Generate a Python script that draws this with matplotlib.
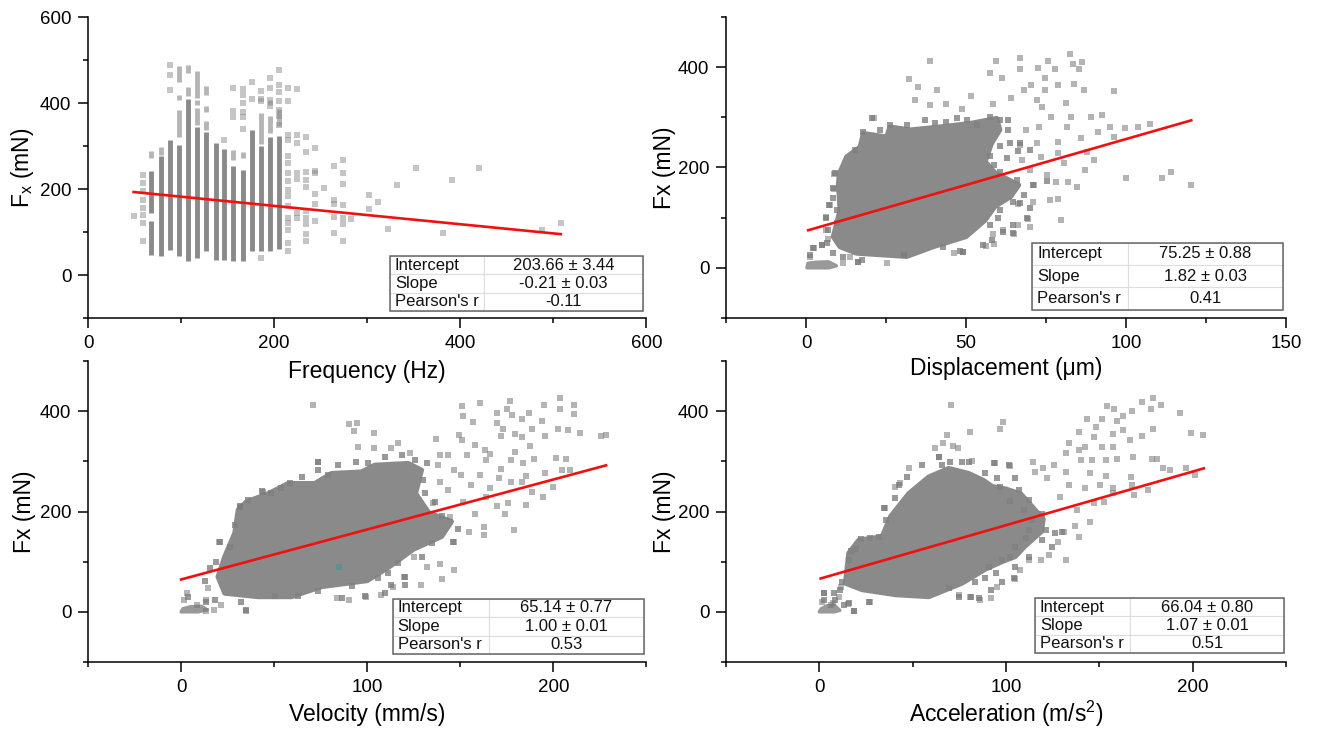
import matplotlib
matplotlib.use('Agg')
from matplotlib import pyplot as plt
from matplotlib.patches import Rectangle

plt.rcParams['font.family'] = ['Liberation Sans', 'DejaVu Sans']
plt.rcParams['mathtext.fontset'] = 'custom'
plt.rcParams['mathtext.rm'] = 'Liberation Sans'
plt.rcParams['mathtext.default'] = 'regular'

GREY = '#8a8a8a'

# frequency panel: columns of stacked points, (freq, low, high)
freq_solid = [(68, 47, 125), (68, 144, 241), (78, 45, 276), (88, 59, 315), (98, 45, 303),
              (107, 32, 409), (117, 40, 345), (127, 56, 332), (137, 36, 308), (146, 36, 293),
              (156, 32, 254), (166, 32, 245), (176, 55, 338), (185.5, 55, 300), (195.5, 55, 322),
              (205, 60, 324)]
freq_light = [(68, 272, 288), (78, 280, 297), (98, 322, 384), (98, 408, 419), (98, 450, 485),
              (107, 416, 438), (107, 470, 489), (117, 350, 388), (117, 396, 408), (117, 412, 474),
              (127, 338, 357), (127, 380, 392), (127, 419, 440), (156, 268, 290), (166, 272, 287),
              (185.5, 305, 376), (195.5, 330, 370), (195.5, 396, 408), (205, 346, 385)]
freq_x = [49, 59, 59, 59, 59, 59, 59, 59, 59,
          214.5, 214.5, 214.5, 214.5, 214.5, 214.5, 214.5, 214.5, 214.5, 214.5, 214.5, 214.5, 214.5, 214.5, 214.5, 214.5,
          224.5, 224.5, 224.5, 224.5, 224.5, 224.5, 224.5,
          234, 234, 234, 234, 234, 234, 234, 234, 234, 234,
          244, 244, 244, 244, 244, 244, 254,
          264, 264, 264, 264, 264,
          274, 274, 274, 274, 274, 274, 274,
          283, 302, 302, 312, 322, 332, 352, 381, 391, 420, 488, 508,
          176, 176, 185.5, 185.5, 185.5, 185.5, 195.5, 195.5, 195.5, 195.5,
          205, 205, 205, 205, 205, 205, 205,
          156, 156, 156, 166, 166, 166, 166, 166, 166, 146, 88, 88, 88]
freq_y = [138, 232, 214, 195, 175, 156, 140, 122, 80,
          435, 404, 326, 315, 276, 260, 237, 218, 197, 183, 160, 133, 122, 105, 74, 55,
          433, 326, 307, 237, 223, 144, 133,
          321, 286, 239, 220, 205, 150, 133, 119, 95, 80,
          295, 243, 237, 188, 164, 125, 202,
          253, 175, 164, 136, 98,
          267, 237, 212, 162, 133, 119, 78,
          130, 186, 153, 169, 107, 209, 249, 98, 222, 250, 104, 122,
          450, 409, 429, 409, 404, 40, 459, 435, 408, 394,
          476, 443, 425, 404, 383, 369, 350,
          435, 381, 367, 432, 419, 400, 380, 367, 340, 313, 489, 464, 430]

# dense core outlines and the loose points around them
disp_core_x = [10.4, 12.7, 16.9, 17.9, 25.2, 26.2, 32.5, 41.9, 51.3, 59.6, 60.6, 58, 56, 59,
               66.5, 64, 59, 56, 50, 39.8, 31.5, 23.1, 15.8, 10.6, 8.5, 10.6, 10.1]
disp_core_y = [188, 221.5, 241, 268, 261, 281, 275, 281, 288, 298, 275, 248, 212, 190,
               165, 142, 122, 95, 62, 42, 22.5, 26, 29, 42, 62, 115, 168.5]
disp_foot_x = [0.3, 0.6, 3, 7, 9.5, 7, 0.3]
disp_foot_y = [0, 9, 11, 12, 4, 0, 0]
disp_x = [38.6, 59.3, 66.8, 82.6, 75.6, 83.4, 86.3, 85.3, 57.6, 61.2, 66.8, 72.4, 77.8, 74.8, 32.2, 34.9, 40.9, 51.7,
          34, 38.6, 43.8, 48.6, 58.3, 64.2, 68.2, 70.2, 74.8, 78.7, 83.9, 87, 96.4, 81.3, 73.8, 72.1, 76.7, 82.9, 89.2,
          92.5, 21.1, 95.1, 99.7, 103.7, 107.6, 91.2, 96.4, 81.7, 72.8, 68.8, 85.9, 78.7, 72.1, 66.8, 87.9, 78.7, 73.4,
          67.5, 89.9, 80.7, 70.1, 87.2, 100, 111.2, 114.2, 120.4, 78, 84.6, 82, 75.4, 71.4, 76.1, 78.7, 70.8, 66.2, 79.6,
          69.5, 66.2, 70, 61.6, 58.3, 64.9, 58.9, 56.3, 49.1, 46.4, 25.4, 16.2, 30.7, 8.9, 8.9, 7.6, 6.3, 6.3, 7, 5, 2.4,
          1.1, 11.6, 13.6]
disp_y = [413, 412, 419, 426, 412, 407, 411, 397, 389, 379, 397, 399, 397, 379, 377, 361, 355, 342,
          334, 324, 326, 316, 326, 338, 354, 364, 354, 364, 367, 355, 352, 329, 321, 335, 301, 301, 301,
          304, 298, 281, 278, 280, 286, 271, 261, 281, 281, 274, 258, 251, 248, 244, 231, 228, 221,
          215, 215, 208, 195, 195, 180, 180, 192, 165, 171, 161, 171, 185, 165, 135, 138, 132, 128, 96,
          98, 85, 82, 75, 68, 68, 48, 43, 31, 29, 9, 12, 25, 188, 158, 125, 102, 75, 58, 45, 39,
          22, 9, 22]
disp_fringe_x = [9, 8.5, 8.3, 7.3, 9.8, 6.3, 7, 9.6, 2.3, 4.9, 6.5, 1.3, 8.5, 11.7, 16.3, 17.4, 20.5, 17.9, 15.3, 23.1,
                 26.2, 31.5, 37.2, 40.3, 43.9, 47.1, 50.2, 53.3, 57.5, 60.6, 63.2, 63.2, 63.8, 66.9, 60.6, 57.5, 62.7,
                 58.6, 66.4, 70, 60.6, 65.8, 71, 75.3, 68, 64.8, 70, 66.9, 60.6, 60.1, 57.5, 64.8, 69, 61.7, 64.8, 58,
                 55.4, 48.1, 49.2, 42.9]
disp_fringe_y = [190, 159, 140, 125, 115, 99, 76, 89, 39, 46, 49, 26, 29, 22, 12, 16, 298, 271, 235, 275,
                 285, 285, 295, 288, 291, 298, 295, 285, 301, 295, 295, 275, 249, 249, 242, 222, 219,
                 205, 232, 235, 192, 175, 165, 174, 145, 132, 119, 129, 115, 99, 86, 86, 99, 72, 69, 55,
                 46, 34, 32, 42]

vel_core_x = [30.6, 35.1, 47, 57.5, 71.8, 80.8, 96.9, 104, 122, 129.2, 126, 133, 145.3, 140,
              125, 112, 100, 75.4, 59.3, 41.3, 23.4, 19.8, 23.4, 28.8]
vel_core_y = [203, 219.5, 236, 256, 256, 276, 279, 292.5, 296, 282.6, 236, 198, 180, 150,
              125, 90, 62, 50, 30, 30, 37, 70, 110, 157]
vel_foot_x = [0, 1, 5, 11, 14, 9, 0]
vel_foot_y = [0, 6, 10, 11, 4, 0, 0]
vel_x = [71, 90.3, 94.3, 93, 103.4, 94.8, 103.4, 112.9, 116.3, 123.1, 73.3, 43.9, 31.4, 150.7, 151.4, 160.4, 176.9,
         175.1, 177.9, 169.5, 187.1, 195, 203.8, 203.8, 211.3, 211.3, 157, 169.5, 183, 193.9, 172.9, 188.7, 202.3, 207.9,
         214.3, 225.6, 228.3, 171.7, 179.6, 183, 195.6, 149.1, 150.9, 136.7, 158.1, 153.6, 163.5, 165.8, 179.6, 187.6,
         138.9, 143.4, 137.8, 146.8, 150.2, 163.8, 177.4, 183.5, 189.8, 201.6, 206.8, 171.7, 185.4, 195.5, 204.5, 209,
         138.9, 155.9, 160.4, 170.6, 177.4, 183, 143.4, 166, 188.7, 200, 194.3, 135.5, 151.4, 163.8, 169.5, 175.8, 185.3,
         174, 158.1, 144.6, 179, 162.7, 154.8, 162.7, 146.8, 138.9, 146.4, 140, 132.1, 125.3, 119.7, 128.7, 114, 107.2,
         99.3, 90.3, 83.5, 34.8, 21.3, 20.1, 14.5, 13.3, 8.8, 3.2, 1.6, 13.3, 17.9]
vel_y = [413, 375, 377, 361, 357, 328, 326, 326, 337, 316, 298, 239, 209, 410, 390, 417, 420,
         405, 392, 397, 397, 413, 427, 405, 413, 395, 379, 377, 384, 380, 365, 365, 365, 363,
         357, 350, 353, 350, 354, 349, 350, 352, 342, 344, 332, 312, 322, 314, 319, 330,
         312, 312, 292, 282, 272, 302, 302, 296, 304, 307, 304, 284, 270, 277, 282, 282,
         259, 252, 272, 266, 259, 259, 243, 246, 239, 249, 229, 216, 219, 229, 211, 217, 213,
         196, 196, 189, 163, 169, 159, 153, 140, 95, 83, 66, 90, 110, 70, 53, 50, 33,
         29, 23, 27, 1, 13, 140, 47, 23, 13, 37, 23, 2, 3]
vel_fringe_x = [73.6, 43.5, 35.7, 31.5, 48.5, 53.9, 58.4, 64.7, 73.6, 79, 84.4, 94.2, 100.5, 109.5, 118.4, 125.6, 131.9,
                130.1, 131, 136.3, 139.9, 148.9, 146.2, 134.6, 129.2, 116.6, 120.2, 111.2, 105.9, 113, 120.2, 109.5,
                98.7, 91.6, 86.2, 73.6, 62.9, 50.3, 32.4, 12.7, 15.4, 19, 20.8, 26.1, 28.8, 35.1, 18, 13.6, 3.7]
vel_fringe_y = [299, 241, 222, 210, 236, 246, 256, 269, 283, 273, 292, 299, 296, 309, 312, 302, 296,
                263, 237, 218, 192, 166, 140, 137, 110, 97, 70, 77, 67, 54, 54, 37,
                31, 51, 27, 41, 31, 31, 19, 61, 87, 100, 140, 130, 173, 4, 24, 20, 30]
vel_odd_x = [85]
vel_odd_y = [89]

acc_core_x = [15.7, 21.1, 33.6, 38.1, 47.9, 58.6, 69.3, 80, 88, 92.6, 100, 108, 114, 120, 119, 110, 105, 98, 89, 76.5,
              58.6, 40.8, 22.9, 13.9, 14.9]
acc_core_y = [117, 143, 150, 190, 236, 269, 286, 276, 262, 250, 245, 235, 210, 185, 160, 130, 110, 100, 85, 57,
              30, 34, 44, 57, 90]
acc_foot_x = [0, 1, 4, 8, 11, 8, 0]
acc_foot_y = [0, 6, 12, 13, 3, 0, 0]
acc_x = [70.8, 98.5, 96.9, 80.7, 68.5, 62, 66.5, 71.5, 74.4, 64.3, 81.6, 94, 101.9, 114.3, 47.8, 154.2, 157.8, 172.9,
         179, 183, 177.5, 167.3, 193.3, 143.6, 151.5, 159.4, 162.8, 178.6, 148.1, 139.1, 147, 157.2, 162.8, 166.2, 172.9,
         198.9, 205.6, 133.5, 142.5, 151.5, 157.2, 132.4, 139.1, 140.2, 145.9, 153.8, 159.4, 168, 178.1, 180.8, 125.6,
         119.9, 132.4, 144.8, 153.8, 166.9, 187.6, 196.6, 201.1, 184.2, 115.4, 122.2, 133.5, 142.5, 150.4, 157.2, 167.3,
         175.9, 157.2, 168.4, 152.6, 147, 129, 138, 144.8, 136.9, 131.2, 139.1, 127.8, 123.3, 131.9, 118.8, 112.1, 107.6,
         104.8, 95.2, 91.8, 86.1, 80.5, 74.9, 27.1, 18.5, 15.1, 10.6, 11.7, 7.2, 2.7, 1.6, 6.1, 43.3, 35.4, 40.6]
acc_y = [413, 379, 365, 359, 352, 327, 336, 330, 326, 308, 300, 296, 290, 299, 286, 411, 405, 419,
         427, 413, 405, 400, 397, 385, 385, 380, 390, 365, 369, 359, 349, 355, 362, 342, 350,
         357, 353, 337, 328, 328, 328, 316, 322, 302, 302, 302, 304, 308, 304, 305, 292,
         286, 279, 276, 270, 269, 282, 286, 272, 286, 279, 266, 252, 246, 252, 246, 252,
         243, 236, 233, 219, 216, 229, 203, 179, 171, 159, 149, 140, 113, 103, 103, 103, 83,
         65, 50, 27, 23, 30, 33, 19, 1, 15, 30, 50, 17, 37, 20, 13, 256, 206, 249]
acc_fringe_x = [55, 64, 70.2, 76.5, 80.4, 65.8, 47, 42.5, 40.8, 34.9, 35.8, 93.5, 101.5, 89, 95.3, 105, 97, 106.9, 102.4,
                112.2, 109.5, 119.4, 114, 112.2, 121.2, 126.5, 130.1, 110.5, 119.4, 124.8, 105, 112.2, 105, 102.4, 98,
                90.8, 104.2, 94.4, 89, 83.6, 98, 91.7, 85.4, 81, 74.7, 69.3, 26.4, 18.4, 13, 15.7, 11.3, 8.6, 7.7, 12.2,
                2.3, 2.3, 15.7, 19.6, 17, 22.3, 27.3, 31.9]
acc_fringe_y = [292.5, 309, 299, 299, 299, 292, 269, 253, 226, 207, 183, 296, 292, 276, 266, 266, 249, 243, 220,
                223, 203, 196, 183, 163, 163, 157, 160, 147, 143, 130, 130, 110, 90, 110, 104,
                90, 67, 77, 67, 60, 60, 44, 27, 30, 30, 47, 19, 2, 14, 17, 44, 24, 37, 60,
                37, 24, 104, 126, 122, 146, 148, 150]

# fit lines, end points
freq_fit_x, freq_fit_y = [49, 508], [193, 95]
disp_fit_x, disp_fit_y = [0.7, 120.4], [75, 294]
vel_fit_x, vel_fit_y = [0, 228.3], [64.5, 292]
acc_fit_x, acc_fit_y = [0.7, 206], [66.5, 286]

# fit tables
row_names = ['Intercept', 'Slope', "Pearson's r"]
freq_stats = ['203.66 ± 3.44', '-0.21 ± 0.03', '-0.11']
disp_stats = ['75.25 ± 0.88', '1.82 ± 0.03', '0.41']
vel_stats = ['65.14 ± 0.77', '1.00 ± 0.01', '0.53']
acc_stats = ['66.04 ± 0.80', '1.07 ± 0.01', '0.51']


def style_axis(ax, xlim, ylim, xmajor, xminor, ymajor, yminor):
    ax.patch.set_visible(False)
    ax.set_xlim(xlim)
    ax.set_ylim(ylim)
    ax.spines['top'].set_visible(False)
    ax.spines['right'].set_visible(False)
    ax.spines['left'].set_linewidth(1.1)
    ax.spines['bottom'].set_linewidth(1.1)
    ax.set_xticks(xmajor)
    ax.set_xticks(xminor, minor=True)
    ax.set_yticks(ymajor)
    ax.set_yticks(yminor, minor=True)
    ax.tick_params(which='major', length=7, width=1.1, labelsize=13.5, pad=5)
    ax.tick_params(which='minor', length=3.5, width=1.1)


def set_labels(ax, xlabel, ylabel, xpos, ypos):
    ax.set_xlabel(xlabel, fontsize=16.5, va='center')
    ax.set_ylabel(ylabel, fontsize=16.5, va='center')
    ax.xaxis.set_label_coords(0.5, xpos)
    ax.yaxis.set_label_coords(ypos, 0.5)


def draw_stats(ax, stats, box, split):
    rows = [[n, s] for n, s in zip(row_names, stats)]
    tb = ax.table(cellText=rows, colWidths=[split, 1 - split], bbox=box, cellLoc='left', zorder=5)
    tb.auto_set_font_size(False)
    for (r, c), cell in tb.get_celld().items():
        cell.set_edgecolor('#dddddd')
        cell.set_linewidth(0.8)
        cell.set_facecolor('white')
        cell.set_text_props(fontsize=12, color='#111111')
        cell.PAD = 0.05
        if c == 1:
            cell.get_text().set_ha('center')
    ax.add_patch(Rectangle((box[0], box[1]), box[2], box[3], transform=ax.transAxes,
                           fill=False, ec='#666666', lw=1.1, zorder=6))


def draw_cloud(ax, core_x, core_y, foot_x, foot_y, x, y, fringe_x, fringe_y):
    # edge stroke stands in for the marker width of the packed points
    ax.fill(core_x, core_y, fc=GREY, ec=GREY, lw=3.5, joinstyle='round', zorder=2)
    ax.fill(foot_x, foot_y, fc='#999999', ec='#999999', lw=2.5, joinstyle='round', zorder=2)
    ax.scatter(fringe_x, fringe_y, s=14, marker='s', color='#808080', alpha=0.8, linewidths=0, zorder=2)
    ax.scatter(x, y, s=14, marker='s', color='#777777', alpha=0.55, linewidths=0, zorder=2)


fig = plt.figure(figsize=(13.18, 7.31), dpi=100)
W, H = 1318.0, 731.0

ax1 = fig.add_axes([88 / W, 1 - 318 / H, 558.5 / W, 301 / H])
ax2 = fig.add_axes([726 / W, 1 - 318 / H, 560 / W, 301 / H])
ax3 = fig.add_axes([88 / W, 1 - 662 / H, 558.5 / W, 301 / H])
ax4 = fig.add_axes([726 / W, 1 - 662 / H, 560 / W, 301 / H])

# frequency
for f, lo, hi in freq_solid:
    ax1.vlines(f, lo, hi, color=GREY, lw=3.5, zorder=2)
for f, lo, hi in freq_light:
    ax1.vlines(f, lo, hi, color='#b5b5b5', lw=3.5, zorder=2)
ax1.scatter(freq_x, freq_y, s=14, marker='s', color='#808080', alpha=0.45, linewidths=0, zorder=2)
ax1.plot(freq_fit_x, freq_fit_y, color='#f01010', lw=1.9, zorder=4)
style_axis(ax1, (0, 600), (-100, 600), [0, 200, 400, 600], [100, 300, 500], [0, 200, 400, 600], [-100, 100, 300, 500])
set_labels(ax1, 'Frequency (Hz)', '$F_x$ (mN)', -0.179, -0.118)
draw_stats(ax1, freq_stats, [0.541, 0.023, 0.453, 0.183], 0.3715)

# displacement
draw_cloud(ax2, disp_core_x, disp_core_y, disp_foot_x, disp_foot_y, disp_x, disp_y, disp_fringe_x, disp_fringe_y)
ax2.plot(disp_fit_x, disp_fit_y, color='#f01010', lw=1.9, zorder=4)
style_axis(ax2, (-25, 150), (-100, 500), [0, 50, 100, 150], [-25, 25, 75, 125], [0, 200, 400], [-100, 100, 300, 500])
set_labels(ax2, 'Displacement (μm)', 'Fx (mN)', -0.169, -0.11)
draw_stats(ax2, disp_stats, [0.547, 0.027, 0.447, 0.223], 0.381)

# velocity
draw_cloud(ax3, vel_core_x, vel_core_y, vel_foot_x, vel_foot_y, vel_x, vel_y, vel_fringe_x, vel_fringe_y)
ax3.scatter(vel_odd_x, vel_odd_y, s=14, marker='s', color='#5f9090', linewidths=0, zorder=3)
ax3.plot(vel_fit_x, vel_fit_y, color='#f01010', lw=1.9, zorder=4)
style_axis(ax3, (-50, 250), (-100, 500), [0, 100, 200], [-50, 50, 150, 250], [0, 200, 400], [-100, 100, 300, 500])
set_labels(ax3, 'Velocity (mm/s)', 'Fx (mN)', -0.173, -0.113)
draw_stats(ax3, vel_stats, [0.546, 0.027, 0.449, 0.183], 0.384)

# acceleration
draw_cloud(ax4, acc_core_x, acc_core_y, acc_foot_x, acc_foot_y, acc_x, acc_y, acc_fringe_x, acc_fringe_y)
ax4.plot(acc_fit_x, acc_fit_y, color='#f01010', lw=1.9, zorder=4)
style_axis(ax4, (-50, 250), (-100, 500), [0, 100, 200], [-50, 50, 150, 250], [0, 200, 400], [-100, 100, 300, 500])
set_labels(ax4, 'Acceleration (m/s$^{2}$)', 'Fx (mN)', -0.173, -0.11)
draw_stats(ax4, acc_stats, [0.552, 0.03, 0.445, 0.183], 0.38)

fig.savefig('out.png', dpi=100)
